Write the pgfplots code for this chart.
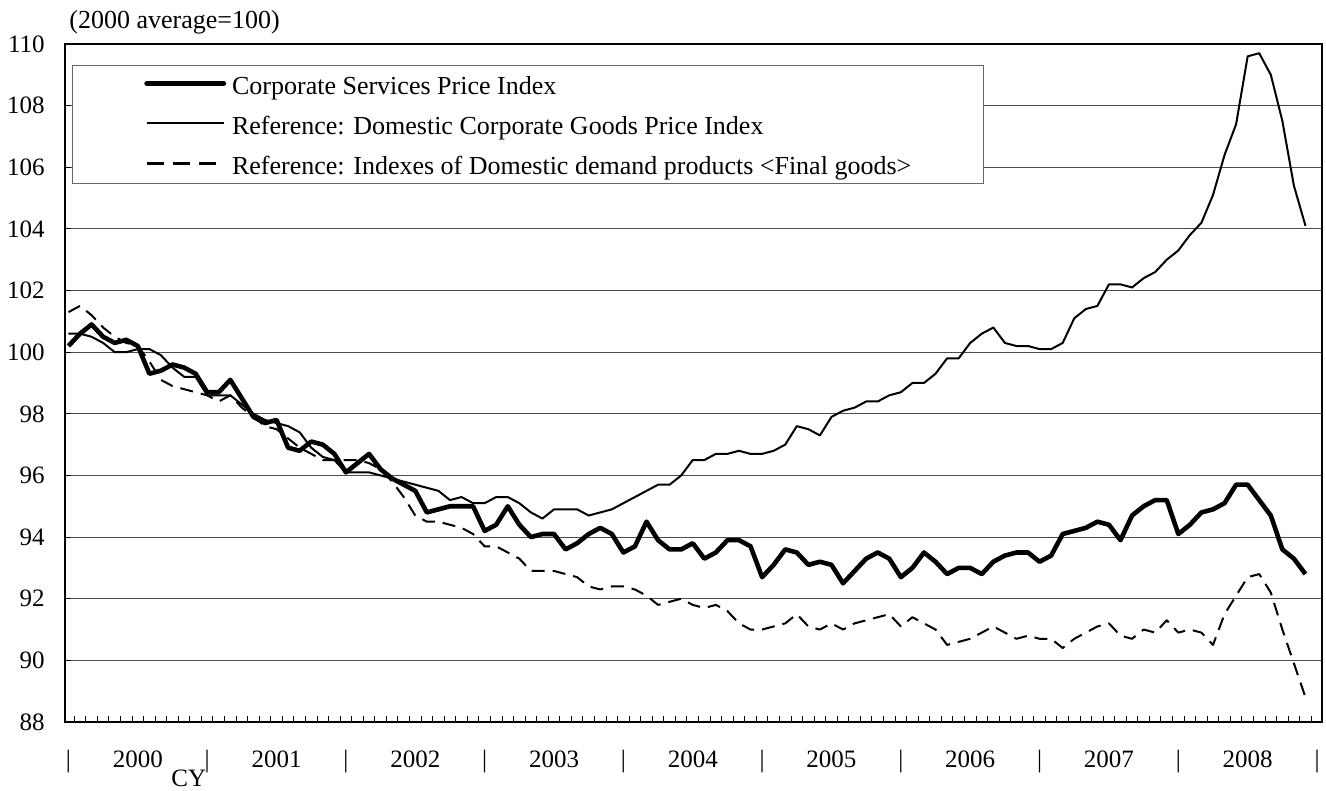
\documentclass[border=0pt]{standalone}
\usepackage{pgfplots}
\pgfplotsset{compat=1.18}
\usepackage{pgfplotstable}
\usepackage{fontspec}
\setmainfont{Liberation Serif}

\pgfplotstableread{
m cspi cgpi fin
0 100.2 100.6 101.3
1 100.6 100.6 101.5
2 100.9 100.5 101.2
3 100.5 100.3 100.8
4 100.3 100.0 100.5
5 100.4 100.0 100.3
6 100.2 100.1 100.2
7 99.3 100.1 99.7
8 99.4 99.9 99.1
9 99.6 99.5 98.9
10 99.5 99.2 98.8
11 99.3 99.2 98.7
12 98.7 98.6 98.6
13 98.7 98.6 98.4
14 99.1 98.6 98.6
15 98.5 98.3 98.2
16 97.9 98.0 97.9
17 97.7 97.8 97.6
18 97.8 97.7 97.5
19 96.9 97.6 97.2
20 96.8 97.4 96.9
21 97.1 96.9 96.7
22 97.0 96.6 96.5
23 96.7 96.5 96.5
24 96.1 96.1 96.5
25 96.4 96.1 96.5
26 96.7 96.1 96.4
27 96.2 96.0 96.2
28 95.9 95.9 95.8
29 95.7 95.8 95.3
30 95.5 95.7 94.7
31 94.8 95.6 94.5
32 94.9 95.5 94.5
33 95.0 95.2 94.4
34 95.0 95.3 94.3
35 95.0 95.1 94.1
36 94.2 95.1 93.7
37 94.4 95.3 93.7
38 95.0 95.3 93.5
39 94.4 95.1 93.3
40 94.0 94.8 92.9
41 94.1 94.6 92.9
42 94.1 94.9 92.9
43 93.6 94.9 92.8
44 93.8 94.9 92.7
45 94.1 94.7 92.4
46 94.3 94.8 92.3
47 94.1 94.9 92.4
48 93.5 95.1 92.4
49 93.7 95.3 92.3
50 94.5 95.5 92.1
51 93.9 95.7 91.8
52 93.6 95.7 91.9
53 93.6 96.0 92.0
54 93.8 96.5 91.8
55 93.3 96.5 91.7
56 93.5 96.7 91.8
57 93.9 96.7 91.6
58 93.9 96.8 91.2
59 93.7 96.7 91.0
60 92.7 96.7 91.0
61 93.1 96.8 91.1
62 93.6 97.0 91.2
63 93.5 97.6 91.5
64 93.1 97.5 91.1
65 93.2 97.3 91.0
66 93.1 97.9 91.2
67 92.5 98.1 91.0
68 92.9 98.2 91.2
69 93.3 98.4 91.3
70 93.5 98.4 91.4
71 93.3 98.6 91.5
72 92.7 98.7 91.1
73 93.0 99.0 91.4
74 93.5 99.0 91.2
75 93.2 99.3 91.0
76 92.8 99.8 90.5
77 93.0 99.8 90.6
78 93.0 100.3 90.7
79 92.8 100.6 90.9
80 93.2 100.8 91.1
81 93.4 100.3 90.9
82 93.5 100.2 90.7
83 93.5 100.2 90.8
84 93.2 100.1 90.7
85 93.4 100.1 90.7
86 94.1 100.3 90.4
87 94.2 101.1 90.7
88 94.3 101.4 90.9
89 94.5 101.5 91.1
90 94.4 102.2 91.2
91 93.9 102.2 90.8
92 94.7 102.1 90.7
93 95.0 102.4 91.0
94 95.2 102.6 90.9
95 95.2 103.0 91.3
96 94.1 103.3 90.9
97 94.4 103.8 91.0
98 94.8 104.2 90.9
99 94.9 105.1 90.5
100 95.1 106.4 91.5
101 95.7 107.4 92.1
102 95.7 109.6 92.7
103 95.2 109.7 92.8
104 94.7 109.0 92.2
105 93.6 107.5 91.0
106 93.3 105.4 89.9
107 92.8 104.1 88.8
}\datatable

\begin{document}
\begin{tikzpicture}
\path[use as bounding box] (-32.5pt,-34.5pt) rectangle (630.5pt,361pt);
\begin{axis}[
  name=ax,
  at={(0pt,0pt)}, anchor=south west,
  scale only axis,
  width=628.5pt, height=339pt,
  xmin=-0.3, xmax=108.43,
  ymin=88, ymax=110,
  ytick={88,90,...,110},
  xtick={0.5,1.5,...,107.5},
  xticklabels={},
  tick pos=left,
  tick align=inside,
  major tick length=3.2pt,
  tick style={black, line width=0.5pt},
  ymajorgrids,
  grid style={black!70, line width=0.5pt},
  axis line style={line width=1.1pt},
  clip=false,
  /pgf/number format/assume math mode=true,
  yticklabel style={font=\fontsize{12.5}{15}\selectfont, anchor=east, inner sep=0pt, xshift=-10pt},
  legend style={at={(0,1)}, anchor=north west, xshift=3.4pt, yshift=-10.5pt,
    draw=black!60, line width=0.5pt, fill=white,
    font=\fontsize{13}{15}\selectfont,
    inner xsep=36pt, inner ysep=3.5pt, row sep=8pt, column sep=3pt,
    nodes={inner sep=0pt, text height=11pt, text depth=1pt}},
  legend cell align=left,
  legend image code/.code={\draw[#1] (0pt,0.5pt) -- (38.5pt,0.5pt);},
]
\addlegendimage{black, line width=2.4pt, line cap=round}
\addlegendentry{Corporate Services Price Index}
\addlegendimage{black, line width=1pt}
\addlegendentry{Reference: Domestic Corporate Goods Price Index}
\addlegendimage{black, line width=1.1pt, dash pattern=on 8.5pt off 4.5pt}
\addlegendentry{Reference: Indexes of Domestic demand products <Final goods>}

\addplot[black, line width=1pt, dash pattern=on 6.5pt off 4pt, line join=round, forget plot] table[x=m, y=fin] {\datatable};
\addplot[black, line width=1pt, line join=round, forget plot] table[x=m, y=cgpi] {\datatable};
\addplot[black, line width=2.3pt, line join=round, forget plot] table[x=m, y=cspi] {\datatable};

\node[anchor=base west, font=\fontsize{13}{15}\selectfont, inner sep=0pt, xshift=2pt, yshift=7.5pt] at (rel axis cs:0,1) {(2000 average=100)};

\node[anchor=base, font=\fontsize{12.5}{15}\selectfont, inner sep=0pt, yshift=-23pt] at (axis cs:6,88) {2000};
\node[anchor=base, font=\fontsize{12.5}{15}\selectfont, inner sep=0pt, yshift=-23pt] at (axis cs:18,88) {2001};
\node[anchor=base, font=\fontsize{12.5}{15}\selectfont, inner sep=0pt, yshift=-23pt] at (axis cs:30,88) {2002};
\node[anchor=base, font=\fontsize{12.5}{15}\selectfont, inner sep=0pt, yshift=-23pt] at (axis cs:42,88) {2003};
\node[anchor=base, font=\fontsize{12.5}{15}\selectfont, inner sep=0pt, yshift=-23pt] at (axis cs:54,88) {2004};
\node[anchor=base, font=\fontsize{12.5}{15}\selectfont, inner sep=0pt, yshift=-23pt] at (axis cs:66,88) {2005};
\node[anchor=base, font=\fontsize{12.5}{15}\selectfont, inner sep=0pt, yshift=-23pt] at (axis cs:78,88) {2006};
\node[anchor=base, font=\fontsize{12.5}{15}\selectfont, inner sep=0pt, yshift=-23pt] at (axis cs:90,88) {2007};
\node[anchor=base, font=\fontsize{12.5}{15}\selectfont, inner sep=0pt, yshift=-23pt] at (axis cs:102,88) {2008};
\node[anchor=base, font=\fontsize{12.5}{15}\selectfont, inner sep=0pt, yshift=-23pt] at (axis cs:0,88) {|};
\node[anchor=base, font=\fontsize{12.5}{15}\selectfont, inner sep=0pt, yshift=-23pt] at (axis cs:12,88) {|};
\node[anchor=base, font=\fontsize{12.5}{15}\selectfont, inner sep=0pt, yshift=-23pt] at (axis cs:24,88) {|};
\node[anchor=base, font=\fontsize{12.5}{15}\selectfont, inner sep=0pt, yshift=-23pt] at (axis cs:36,88) {|};
\node[anchor=base, font=\fontsize{12.5}{15}\selectfont, inner sep=0pt, yshift=-23pt] at (axis cs:48,88) {|};
\node[anchor=base, font=\fontsize{12.5}{15}\selectfont, inner sep=0pt, yshift=-23pt] at (axis cs:60,88) {|};
\node[anchor=base, font=\fontsize{12.5}{15}\selectfont, inner sep=0pt, yshift=-23pt] at (axis cs:72,88) {|};
\node[anchor=base, font=\fontsize{12.5}{15}\selectfont, inner sep=0pt, yshift=-23pt] at (axis cs:84,88) {|};
\node[anchor=base, font=\fontsize{12.5}{15}\selectfont, inner sep=0pt, yshift=-23pt] at (axis cs:96,88) {|};
\node[anchor=base, font=\fontsize{12.5}{15}\selectfont, inner sep=0pt, yshift=-23pt] at (axis cs:108,88) {|};
\node[anchor=base, font=\fontsize{12.5}{15}\selectfont, inner sep=0pt, yshift=-32.3pt] at (axis cs:10.4,88) {CY};
\end{axis}
\end{tikzpicture}
\end{document}
